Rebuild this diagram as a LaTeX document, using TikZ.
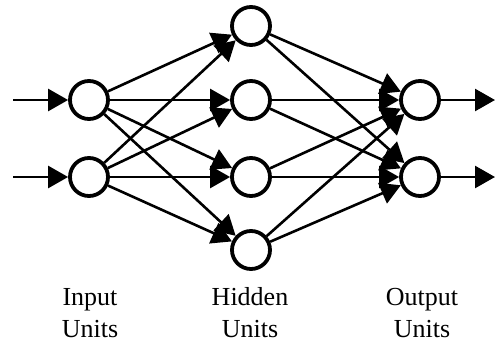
\documentclass[tikz,border=0pt]{standalone}
\usepackage{fontspec}
\setmainfont{Liberation Serif}
\usetikzlibrary{arrows.meta}
\tikzstyle{unit} = [draw, circle, line width=3.8pt, minimum size=38pt, inner sep=0pt]
\tikzstyle{caption} = [align=center, font=\fontsize{26}{32}\selectfont]
\tikzstyle{link} = [->, line width=2.6pt]

\begin{document}
\begin{tikzpicture}[x=1pt, y=-1pt, >={Triangle[length=20pt,width=22pt]}]
 \useasboundingbox (0,0) rectangle (495,343);
 % nodes
    \coordinate (in1) at (13,100);
    \coordinate (in2) at (13,177);
    \node [unit, name=input1] at (89,100) {};
    \node [unit, name=input2] at (89,177) {};
    \node [unit, name=hidden1] at (251,26) {};
    \node [unit, name=hidden2] at (251,100) {};
    \node [unit, name=hidden3] at (251,177) {};
    \node [unit, name=hidden4] at (251,250) {};
    \node [unit, name=output1] at (420,100) {};
    \node [unit, name=output2] at (420,177) {};
    \coordinate (out1) at (495,100);
    \coordinate (out2) at (495,177);
    \node [caption, anchor=base, name=inlabel] at (90,337) {Input\\Units};
    \node [caption, anchor=base, name=hidlabel] at (250,337) {Hidden\\Units};
    \node [caption, anchor=base, name=outlabel] at (422,337) {Output\\Units};
    % edges
    \draw [link] (in1) -- (input1);
    \draw [link] (in2) -- (input2);
    \draw [link] (input1) -- (hidden1);
    \draw [link] (input1) -- (hidden2);
    \draw [link] (input1) -- (hidden3);
    \draw [link] (input1) -- (hidden4);
    \draw [link] (input2) -- (hidden1);
    \draw [link] (input2) -- (hidden2);
    \draw [link] (input2) -- (hidden3);
    \draw [link] (input2) -- (hidden4);
    \draw [link] (hidden1) -- (output1);
    \draw [link] (hidden1) -- (output2);
    \draw [link] (hidden2) -- (output1);
    \draw [link] (hidden2) -- (output2);
    \draw [link] (hidden3) -- (output1);
    \draw [link] (hidden3) -- (output2);
    \draw [link] (hidden4) -- (output1);
    \draw [link] (hidden4) -- (output2);
    \draw [link] (output1) -- (out1);
    \draw [link] (output2) -- (out2);

\end{tikzpicture}
\end{document}
